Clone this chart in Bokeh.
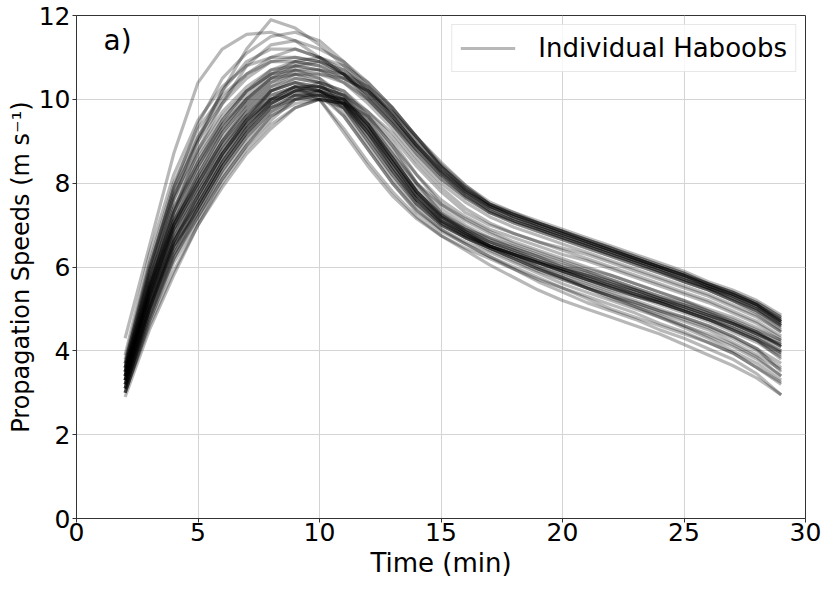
from bokeh.plotting import figure
from bokeh.models import Range1d, FixedTicker, Label, Legend, LegendItem
from bokeh.embed import file_html
from bokeh.resources import INLINE

# Time (min) of the first sample of every haboob track
t_start = 2

# Lower dark core of tracks
A1 = [3.0,4.6,5.9,7.0,8.0,8.8,9.4,9.8,10.0,9.9,9.3,8.5,7.7,7.1,6.8,6.5,6.3,6.1,5.9,5.7,5.5,5.35,5.15,4.95,4.75,4.5,4.25,3.9]
A2 = [3.1,4.9,6.3,7.2,8.1,8.9,9.5,10.0,10.2,10.0,9.4,8.6,7.8,7.2,6.85,6.6,6.4,6.15,5.95,5.8,5.6,5.45,5.25,5.05,4.85,4.65,4.4,4.15]
A3 = [3.3,5.1,6.5,7.3,8.3,9.1,9.7,10.1,10.2,10.0,9.3,8.4,7.6,7.1,6.8,6.5,6.3,6.1,5.9,5.7,5.55,5.35,5.15,4.95,4.75,4.5,4.25,3.95]
A4 = [3.5,5.3,6.7,7.5,8.5,9.3,9.9,10.2,10.3,10.1,9.5,8.7,7.9,7.3,6.9,6.6,6.4,6.2,6.0,5.8,5.65,5.45,5.25,5.1,4.9,4.65,4.45,4.2]
A5 = [3.2,5.0,6.4,7.4,8.4,9.2,9.8,10.1,10.1,9.8,9.1,8.3,7.5,7.0,6.7,6.45,6.25,6.05,5.85,5.65,5.45,5.3,5.1,4.9,4.7,4.45,4.2,3.85]
A6 = [3.4,5.4,6.9,7.8,8.7,9.4,10.0,10.2,10.2,9.9,9.2,8.4,7.7,7.2,6.9,6.7,6.45,6.25,6.05,5.9,5.7,5.5,5.3,5.15,4.95,4.75,4.5,4.25]
A7 = [3.0,4.7,6.1,7.1,8.1,8.9,9.6,10.0,10.1,10.0,9.5,8.8,8.0,7.4,7.0,6.7,6.5,6.3,6.1,5.9,5.7,5.5,5.3,5.1,4.9,4.7,4.45,4.1]
A8 = [3.6,5.6,7.1,8.0,8.9,9.6,10.1,10.3,10.2,9.9,9.2,8.3,7.6,7.1,6.75,6.5,6.3,6.1,5.95,5.75,5.55,5.4,5.2,5.0,4.8,4.55,4.3,4.0]
A9 = [3.3,5.2,6.6,7.6,8.6,9.4,9.9,10.2,10.4,10.2,9.6,8.9,8.0,7.3,6.95,6.65,6.45,6.25,6.0,5.85,5.65,5.45,5.25,5.05,4.85,4.65,4.4,4.1]
A10 = [3.1,4.8,6.2,7.2,8.2,9.0,9.6,9.9,10.0,9.8,9.2,8.5,7.8,7.2,6.85,6.55,6.35,6.15,5.95,5.75,5.55,5.35,5.2,5.0,4.8,4.6,4.35,4.0]
A11 = [3.5,5.5,7.0,7.9,8.8,9.5,10.0,10.1,10.1,10.0,9.4,8.6,7.8,7.25,6.9,6.6,6.35,6.15,5.95,5.8,5.6,5.4,5.2,5.05,4.85,4.65,4.4,4.15]
A12 = [3.2,5.0,6.5,7.4,8.4,9.2,9.8,10.0,10.0,9.9,9.6,9.0,8.2,7.5,7.1,6.8,6.55,6.35,6.15,5.95,5.8,5.6,5.4,5.2,5.0,4.8,4.55,4.25]
A13 = [3.4,5.3,6.8,7.7,8.7,9.5,10.0,10.3,10.3,10.1,9.4,8.5,7.7,7.15,6.8,6.5,6.3,6.1,5.9,5.7,5.5,5.3,5.15,4.95,4.75,4.5,4.25,3.8]
A14 = [2.9,4.5,5.8,7.0,7.9,8.7,9.3,9.8,10.0,9.9,9.4,8.6,7.8,7.2,6.8,6.5,6.3,6.1,5.9,5.7,5.5,5.3,5.15,4.95,4.75,4.55,4.3,3.95]

# Upper band of tracks
B1 = [3.6,5.8,7.6,8.7,9.6,10.2,10.6,10.8,10.7,10.5,10.2,9.7,9.1,8.4,7.85,7.45,7.2,7.0,6.8,6.6,6.4,6.2,6.0,5.8,5.6,5.4,5.15,4.8]
B2 = [3.4,5.5,7.2,8.4,9.4,10.1,10.6,10.9,10.8,10.6,10.2,9.6,8.9,8.3,7.8,7.4,7.15,6.95,6.75,6.55,6.35,6.15,5.95,5.75,5.55,5.3,5.05,4.7]
B3 = [3.7,6.0,7.8,9.0,9.9,10.5,10.9,11.0,10.9,10.6,10.1,9.5,8.8,8.2,7.75,7.35,7.1,6.9,6.7,6.5,6.3,6.1,5.9,5.7,5.5,5.25,5.0,4.65]
B4 = [3.3,5.3,7.0,8.2,9.2,9.9,10.4,10.7,10.6,10.4,10.0,9.4,8.8,8.2,7.7,7.3,7.05,6.85,6.65,6.45,6.25,6.05,5.85,5.65,5.45,5.2,4.95,4.6]
B5 = [3.8,6.1,8.0,9.3,10.1,10.6,10.9,10.9,10.8,10.5,10.0,9.4,8.7,8.1,7.65,7.3,7.05,6.85,6.65,6.45,6.25,6.05,5.85,5.65,5.45,5.2,4.9,4.5]
B6 = [3.5,5.7,7.4,8.6,9.5,10.2,10.7,10.9,11.0,10.8,10.4,9.8,9.1,8.5,7.95,7.5,7.3,7.1,6.9,6.7,6.5,6.3,6.1,5.9,5.65,5.45,5.2,4.85]
B7 = [3.2,5.2,6.9,8.0,9.0,9.8,10.3,10.6,10.6,10.5,10.2,9.7,9.0,8.4,7.85,7.45,7.2,6.95,6.75,6.55,6.35,6.15,5.95,5.7,5.5,5.3,5.0,4.6]
B8 = [3.6,5.9,7.7,8.8,9.7,10.3,10.7,10.8,10.7,10.4,9.9,9.3,8.6,8.0,7.55,7.2,6.95,6.75,6.55,6.35,6.15,5.95,5.75,5.55,5.35,5.1,4.85,4.45]
B9 = [3.4,5.5,7.3,8.5,9.4,10.0,10.5,10.7,10.7,10.6,10.3,9.8,9.1,8.45,7.95,7.55,7.3,7.05,6.85,6.65,6.45,6.2,6.0,5.8,5.6,5.35,5.1,4.75]
B10 = [3.9,6.3,8.2,9.5,10.3,10.8,11.0,11.0,10.9,10.6,10.1,9.5,8.8,8.2,7.7,7.4,7.15,6.95,6.75,6.55,6.35,6.15,5.95,5.75,5.5,5.3,5.05,4.7]
B11 = [3.3,5.4,7.1,8.3,9.3,10.0,10.5,10.8,10.9,10.7,10.3,9.6,8.9,8.25,7.75,7.35,7.1,6.9,6.7,6.5,6.3,6.1,5.9,5.65,5.45,5.2,4.95,4.55]
B12 = [3.7,6.0,7.9,9.1,10.0,10.6,11.0,11.2,11.0,10.7,10.2,9.6,8.9,8.3,7.85,7.5,7.25,7.05,6.85,6.6,6.4,6.2,6.0,5.8,5.55,5.35,5.1,4.75]

# Tracks with the highest early peaks
C1 = [4.3,6.5,8.7,10.4,11.2,11.55,11.6,11.4,11.0,10.6,10.1,9.5,8.9,8.3,7.8,7.45,7.25,7.05,6.85,6.65,6.45,6.25,6.05,5.85,5.6,5.4,5.1,4.7]
C2 = [3.5,5.6,7.6,9.0,10.2,11.2,11.9,11.7,11.3,10.8,10.2,9.6,8.9,8.3,7.8,7.45,7.2,7.0,6.8,6.6,6.4,6.2,6.0,5.8,5.55,5.35,5.1,4.7]
C3 = [3.7,5.9,7.9,9.4,10.5,11.1,11.5,11.6,11.4,10.9,10.3,9.7,9.0,8.4,7.9,7.5,7.25,7.05,6.85,6.65,6.45,6.25,6.05,5.85,5.6,5.4,5.15,4.8]
C4 = [3.4,5.5,7.3,8.8,9.9,10.8,11.3,11.4,11.2,10.9,10.4,9.8,9.1,8.4,7.9,7.5,7.25,7.0,6.8,6.6,6.4,6.2,6.0,5.8,5.55,5.35,5.1,4.65]
C5 = [3.6,5.8,7.7,9.1,10.2,10.9,11.2,11.2,11.0,10.6,10.0,9.4,8.7,8.1,7.65,7.3,7.1,6.9,6.7,6.5,6.3,6.1,5.9,5.7,5.5,5.25,5.0,4.6]

# Tracks that slow down fastest
D1 = [3.0,4.8,6.3,7.4,8.4,9.2,9.8,10.1,10.0,9.3,8.5,7.8,7.2,6.75,6.4,6.05,5.75,5.45,5.2,5.0,4.8,4.6,4.4,4.15,3.9,3.65,3.35,2.95]
D2 = [3.3,5.2,6.8,7.9,8.9,9.6,10.1,10.3,10.0,9.2,8.4,7.7,7.15,6.75,6.45,6.2,5.95,5.7,5.5,5.3,5.1,4.9,4.65,4.45,4.2,3.95,3.6,3.2]
D3 = [3.1,5.0,6.6,7.7,8.7,9.5,10.2,10.5,10.4,9.8,9.0,8.2,7.5,7.0,6.7,6.45,6.2,5.95,5.7,5.5,5.25,5.05,4.85,4.6,4.35,4.1,3.8,3.4]
D4 = [3.5,5.5,7.1,8.2,9.2,9.9,10.4,10.6,10.4,9.9,9.1,8.3,7.6,7.05,6.75,6.5,6.3,6.0,5.75,5.5,5.3,5.05,4.8,4.55,4.3,4.0,3.7,3.3]
D5 = [3.2,5.1,6.7,7.8,8.8,9.6,10.2,10.4,10.3,9.7,8.9,8.1,7.4,6.9,6.55,6.25,5.95,5.65,5.4,5.15,4.95,4.75,4.5,4.3,4.05,3.8,3.45,2.95]
D6 = [3.4,5.4,7.0,8.1,9.0,9.7,10.2,10.4,10.2,9.6,8.8,8.0,7.3,6.85,6.55,6.25,6.0,5.75,5.5,5.25,5.0,4.8,4.6,4.4,4.2,3.95,3.6,3.25]

# Tracks just below the lower dark core
E1 = [3.2,5.0,6.5,7.5,8.5,9.3,9.9,10.2,10.2,9.9,9.2,8.4,7.6,7.05,6.7,6.4,6.15,5.9,5.7,5.5,5.3,5.15,4.95,4.8,4.6,4.35,4.05,3.7]
E2 = [3.0,4.7,6.2,7.3,8.3,9.1,9.7,10.0,10.1,9.9,9.3,8.5,7.7,7.1,6.75,6.45,6.2,5.95,5.75,5.55,5.35,5.15,4.95,4.75,4.55,4.3,4.0,3.6]
E3 = [3.4,5.3,6.9,8.0,9.0,9.7,10.2,10.4,10.3,10.0,9.3,8.6,7.8,7.25,6.85,6.5,6.25,6.0,5.8,5.6,5.4,5.2,5.0,4.8,4.6,4.35,4.05,3.5]
E4 = [3.1,4.9,6.4,7.5,8.5,9.3,9.9,10.2,10.1,9.6,8.8,8.0,7.35,6.9,6.6,6.35,6.1,5.85,5.6,5.4,5.2,5.0,4.8,4.6,4.4,4.15,3.85,3.4]
E5 = [3.3,5.1,6.6,7.6,8.6,9.4,10.0,10.3,10.2,9.8,9.0,8.2,7.5,7.0,6.7,6.45,6.2,5.95,5.75,5.5,5.3,5.1,4.9,4.7,4.5,4.2,3.9,3.55]

# Tracks between the two bands
M1 = [3.3,5.3,7.0,8.1,9.1,9.8,10.3,10.5,10.4,10.2,9.7,9.1,8.4,7.8,7.3,7.0,6.8,6.6,6.45,6.3,6.1,5.9,5.7,5.5,5.3,5.05,4.8,4.45]
M2 = [3.5,5.6,7.3,8.4,9.3,10.0,10.5,10.6,10.5,10.1,9.6,8.9,8.2,7.6,7.2,6.9,6.7,6.5,6.3,6.15,5.95,5.75,5.55,5.35,5.15,4.9,4.65,4.3]
M3 = [3.1,5.0,6.6,7.7,8.7,9.5,10.0,10.3,10.3,10.1,9.7,9.2,8.5,7.9,7.4,7.05,6.8,6.6,6.4,6.2,6.0,5.8,5.6,5.4,5.2,4.95,4.7,4.35]
M4 = [3.6,5.7,7.4,8.5,9.5,10.2,10.6,10.7,10.5,10.0,9.4,8.7,8.0,7.5,7.15,6.85,6.6,6.4,6.2,6.0,5.8,5.6,5.4,5.2,4.95,4.7,4.45,4.1]

tracks = [A1, A2, A3, A4, A5, A6, A7, A8, A9, A10, A11, A12, A13, A14,
          B1, B2, B3, B4, B5, B6, B7, B8, B9, B10, B11, B12,
          C1, C2, C3, C4, C5,
          D1, D2, D3, D4, D5, D6,
          E1, E2, E3, E4, E5,
          M1, M2, M3, M4]

x_ticks = [0, 5, 10, 15, 20, 25, 30]
y_ticks = [0, 2, 4, 6, 8, 10, 12]
x_title = "Time (min)"
y_title = "Propagation Speeds (m s\u207b\u00b9)"
legend_text = "Individual Haboobs"
panel_text = "a)"

FONT = "DejaVu Sans"

p = figure(width=822, height=580, x_range=Range1d(0, 30), y_range=Range1d(0, 12),
           output_backend="svg", toolbar_location=None,
           min_border_left=76, min_border_right=17, min_border_top=15, min_border_bottom=56)

renderers = []
for tr in tracks:
    xs = list(range(t_start, t_start + len(tr)))
    r = p.line(xs, tr, line_color="black", line_alpha=0.28, line_width=3.2, line_join="round")
    renderers.append(r)

legend = Legend(items=[LegendItem(label=legend_text, renderers=[renderers[0]])],
                location="top_right", margin=9, padding=8, glyph_width=55, glyph_height=20,
                label_standoff=23, label_text_font=FONT, label_text_font_size="26px",
                label_text_color="black",
                border_line_color="#d0d0d0", border_line_width=1, background_fill_alpha=0.8,
                spacing=0)
p.add_layout(legend)

p.add_layout(Label(x=1.11, y=11.40, text=panel_text, text_font=FONT, text_font_size="28px",
                   text_baseline="alphabetic", text_color="black"))

p.xaxis.ticker = FixedTicker(ticks=x_ticks)
p.yaxis.ticker = FixedTicker(ticks=y_ticks)
p.xaxis.axis_label = x_title
p.yaxis.axis_label = y_title
for ax in (p.xaxis, p.yaxis):
    ax.major_label_text_font = FONT
    ax.major_label_text_font_size = "25px"
    ax.major_label_text_color = "black"
    ax.axis_label_text_font = FONT
    ax.axis_label_text_font_style = "normal"
    ax.axis_label_text_color = "black"
    ax.axis_line_color = "#333333"
    ax.major_tick_line_color = "#333333"
    ax.major_tick_out = 4
    ax.major_tick_in = 0
    ax.minor_tick_line_color = None
p.xaxis.axis_label_text_font_size = "26px"
p.yaxis.axis_label_text_font_size = "24px"
p.xaxis.major_label_standoff = 0
p.xaxis.axis_label_standoff = 4
p.yaxis.major_label_standoff = 2
p.yaxis.axis_label_standoff = 1

p.grid.grid_line_color = "#d4d4d4"
p.grid.grid_line_width = 1
p.outline_line_color = "#333333"
p.outline_line_width = 1
p.background_fill_color = "white"

open("out.html", "w").write(file_html(p, INLINE))
